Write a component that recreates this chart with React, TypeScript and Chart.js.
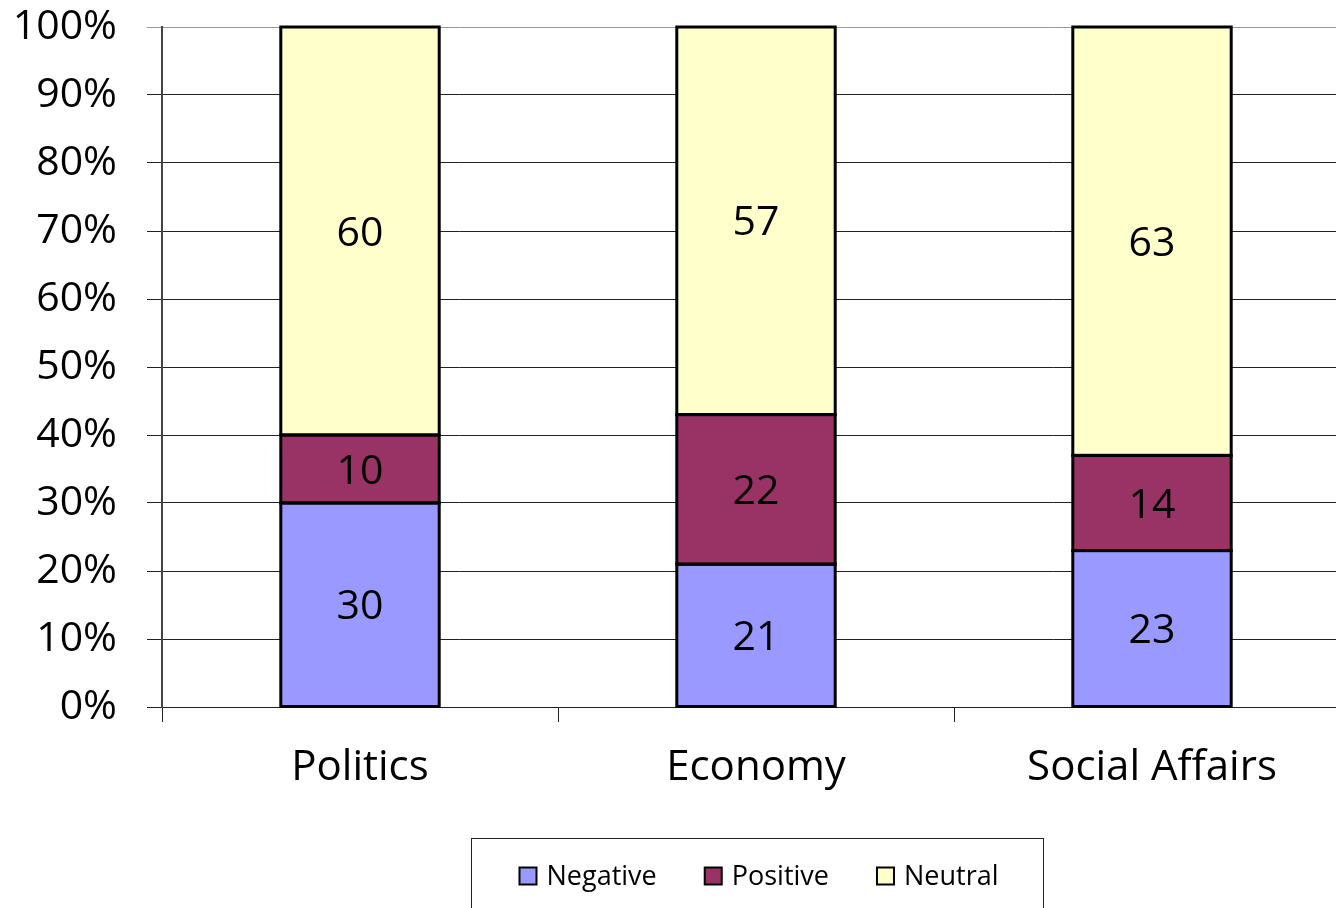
import React, { useEffect, useRef } from "react";
import { Chart, registerables } from "chart.js";

Chart.register(...registerables);

const categories = ["Politics", "Economy", "Social Affairs"];
const seriesNames = ["Negative", "Positive", "Neutral"];
const negativeValues = [30, 21, 23];
const positiveValues = [10, 22, 14];
const neutralValues = [60, 57, 63];
const seriesColors = ["#9999FF", "#993366", "#FFFFCC"];
const yTicks = [0, 10, 20, 30, 40, 50, 60, 70, 80, 90, 100];

const FONT = "'Open Sans', 'DejaVu Sans', sans-serif";

const barOutlinePlugin = {
  id: "barOutline",
  afterDatasetsDraw(chart: any) {
    const ctx = chart.ctx;
    ctx.save();
    ctx.strokeStyle = "#000";
    ctx.lineWidth = 3;
    chart.data.datasets.forEach((_ds: any, i: number) => {
      const meta = chart.getDatasetMeta(i);
      meta.data.forEach((bar: any) => {
        const p = bar.getProps(["x", "y", "base", "width"], true);
        const top = Math.min(p.y, p.base);
        const h = Math.abs(p.base - p.y);
        ctx.strokeRect(p.x - p.width / 2, top, p.width, h);
      });
    });
    ctx.restore();
  },
};

const dataLabelPlugin = {
  id: "dataLabels",
  afterDatasetsDraw(chart: any) {
    const ctx = chart.ctx;
    ctx.save();
    ctx.font = `41px ${FONT}`;
    ctx.fillStyle = "#000";
    ctx.textAlign = "center";
    ctx.textBaseline = "middle";
    chart.data.datasets.forEach((ds: any, i: number) => {
      const meta = chart.getDatasetMeta(i);
      meta.data.forEach((bar: any, j: number) => {
        const v = ds.data[j];
        const cy = (bar.y + bar.base) / 2 + 3;
        ctx.fillText(String(v), bar.x, cy);
      });
    });
    ctx.restore();
  },
};

const legendBoxPlugin = {
  id: "legendBox",
  afterDraw(chart: any) {
    const ctx = chart.ctx;
    ctx.save();
    const boxL = 471, boxR = 1043, boxT = 838, boxB = 916;
    ctx.strokeStyle = "#222";
    ctx.lineWidth = 1;
    ctx.strokeRect(boxL + 0.5, boxT + 0.5, boxR - boxL, boxB - boxT);
    ctx.font = `27px ${FONT}`;
    const sw = 17, gap = 10, spacing = 48;
    const items = chart.data.datasets.map((ds: any) => ({
      label: ds.label,
      color: ds.backgroundColor,
      w: sw + gap + ctx.measureText(ds.label).width,
    }));
    const total = items.reduce((a: number, it: any) => a + it.w, 0) + spacing * (items.length - 1);
    let x = (boxL + boxR) / 2 - total / 2 + 2;
    const cy = 876;
    items.forEach((it: any) => {
      ctx.fillStyle = it.color;
      ctx.fillRect(x, cy - sw / 2, sw, sw);
      ctx.strokeStyle = "#000";
      ctx.lineWidth = 2;
      ctx.strokeRect(x, cy - sw / 2, sw, sw);
      ctx.fillStyle = "#000";
      ctx.textAlign = "left";
      ctx.textBaseline = "middle";
      ctx.fillText(it.label, x + sw + gap, cy + 1);
      x += it.w + spacing;
    });
    ctx.restore();
  },
};

export default function App() {
  const ref = useRef<HTMLCanvasElement>(null);
  useEffect(() => {
    if (!ref.current) return;
    const values = [negativeValues, positiveValues, neutralValues];
    const chart = new Chart(ref.current, {
      type: "bar",
      data: {
        labels: categories,
        datasets: seriesNames.map((name, i) => ({
          label: name,
          data: values[i],
          backgroundColor: seriesColors[i],
          borderWidth: 0,
          categoryPercentage: 1,
          barPercentage: 0.4,
        })),
      },
      options: {
        animation: false,
        responsive: false,
        maintainAspectRatio: false,
        devicePixelRatio: 1,
        layout: { padding: { top: 27, left: 0, right: 0, bottom: 0 } },
        plugins: {
          legend: { display: false },
          tooltip: { enabled: false },
          title: { display: false },
        },
        scales: {
          x: {
            stacked: true,
            offset: true,
            grid: {
              offset: true,
              drawOnChartArea: false,
              drawTicks: true,
              tickLength: 15,
              color: "#222",
              lineWidth: 1,
            },
            border: { display: true, color: "#222", width: 1 },
            ticks: {
              color: "#000",
              font: { family: FONT, size: 42 },
              padding: 21,
              maxRotation: 0,
              autoSkip: false,
            },
            afterFit: (scale: any) => {
              scale.height = 223;
              scale.paddingLeft = 0;
              scale.paddingRight = 0;
            },
          },
          y: {
            stacked: true,
            min: 0,
            max: 100,
            afterBuildTicks: (scale: any) => {
              scale.ticks = yTicks.map((v) => ({ value: v }));
            },
            grid: {
              drawTicks: true,
              tickLength: 15,
              color: (c: any) => (c.tick && c.tick.value === 100 ? "#999" : "#222"),
              lineWidth: 1,
            },
            border: { display: true, color: "#444", width: 2 },
            ticks: {
              color: "#000",
              font: { family: FONT, size: 41 },
              padding: 30,
              callback: (v: any) => `${v}%`,
            },
            afterFit: (scale: any) => {
              scale.width = 162;
              scale.paddingTop = 0;
              scale.paddingBottom = 0;
            },
          },
        },
      },
      plugins: [barOutlinePlugin, dataLabelPlugin, legendBoxPlugin],
    });
    return () => chart.destroy();
  }, []);
  return (
    <div
      style={{
        position: "fixed",
        left: 0,
        top: 0,
        width: 1336,
        height: 908,
        overflow: "hidden",
        background: "#fff",
      }}
    >
      <canvas ref={ref} width={1350} height={930} style={{ width: 1350, height: 930, display: "block" }} />
    </div>
  );
}
